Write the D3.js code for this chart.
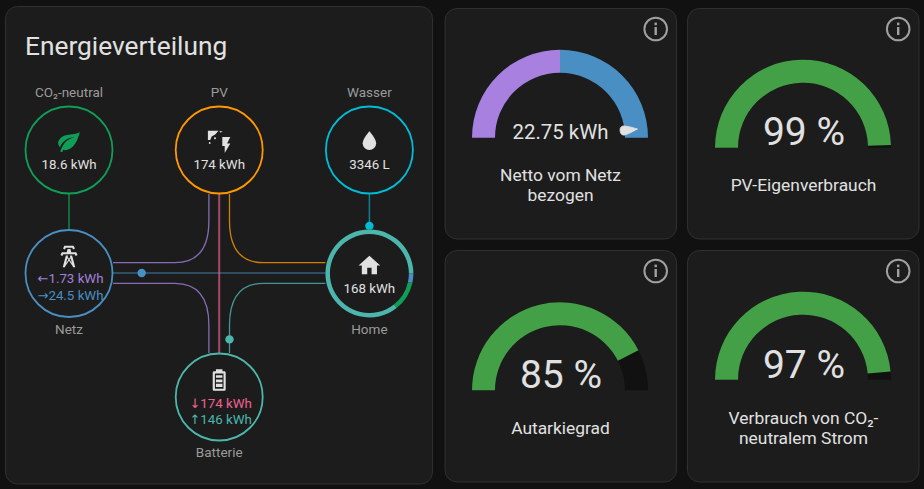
<!DOCTYPE html>
<html lang="de">
<head>
<meta charset="utf-8">
<script src="https://cdn.jsdelivr.net/npm/d3@7/dist/d3.min.js"></script>
<style>
  html, body { margin: 0; background: #111111; }
  svg { display: block; font-family: Roboto, sans-serif; }
</style>
</head>
<body>
<div id="chart"></div>
<script>
// Werte
const nodeNames = ["CO₂-neutral", "PV", "Wasser", "Netz", "Home", "Batterie"]
const nodeValues = ["18.6 kWh", "174 kWh", "3346 L", null, "168 kWh", null]
const gridReturn = "1.73 kWh"
const gridConsume = "24.5 kWh"
const batteryIn = "174 kWh"
const batteryOut = "146 kWh"

// Anteile des Home-Rings: Netz fossil, CO2-neutral, Batterie
const homeShares = [5.9, 18.6, 146]

const gaugeTitles = [["Netto vom Netz", "bezogen"], ["PV-Eigenverbrauch"], ["Autarkiegrad"], ["Verbrauch von CO₂-", "neutralem Strom"]]
const gaugeValues = [22.75, 99, 85, 97]
const gaugeLabels = ["22.75 kWh", "99 %", "85 %", "97 %"]
const nettoMin = -24.5
const nettoMax = 24.5

const colors = {
  page: "#111111", card: "#1c1c1c", border: "#303030", text: "#e1e1e1", label: "#9b9b9b",
  grid: "#488fc2", gridReturn: "#a280db", pv: "#ff9800", co2: "#0f9d58", water: "#00bcd4",
  battery: "#4db6ac", batteryIn: "#f06292", gauge: "#43a047", gaugeBg: "#111111",
  netNeg: "#a880e0", netPos: "#4a8fc4",
}

const icons = {
  leaf: "M17,8C8,10 5.9,16.17 3.82,21.34L5.71,22L6.66,19.7C7.14,19.87 7.64,20 8,20C19,20 22,3 22,3C21,5 14,5.25 9,6.25C4,7.25 2,11.5 2,13.5C2,15.5 3.75,17.25 3.75,17.25C7,8 17,8 17,8Z",
  home: "M10,20V14H14V20H19V12H22L12,3L2,12H5V20H10Z",
  water: "M12,20A6,6 0 0,1 6,14C6,10 12,3.25 12,3.25C12,3.25 18,10 18,14A6,6 0 0,1 12,20Z",
  tower: "M8.28,5.45L6.5,4.55L7.76,2H16.23L17.5,4.55L15.72,5.44L15,4H9L8.28,5.45M18.62,8H14.09L13.3,5H10.7L9.91,8H5.38L4.1,10.55L5.89,11.44L6.62,10H17.38L18.1,11.45L19.89,10.56L18.62,8M17.77,22H15.7L15.46,21.1L12,15.9L8.53,21.1L8.3,22H6.23L9.12,11H11.19L10.83,12.35L12,14.1L13.16,12.35L12.81,11H14.88L17.77,22M11.4,15L10.5,13.65L9.32,18.13L11.4,15M14.68,18.12L13.5,13.64L12.6,15L14.68,18.12Z",
  battery: "M16,20H8V6H16M16.67,4H15V2H9V4H7.33A1.33,1.33 0 0,0 6,5.33V20.67C6,21.4 6.6,22 7.33,22H16.67A1.33,1.33 0 0,0 18,20.67V5.33C18,4.6 17.4,4 16.67,4Z M9,7.5H15V10H9Z M9,11.5H15V14H9Z M9,15.5H15V18.5H9Z",
  flash: "M7,2V13H10V22L17,10H13L17,2H7Z",
}

const W = 924, H = 489
const svg = d3.select("#chart").append("svg")
  .attr("width", W).attr("height", H)
  .attr("viewBox", `0 0 ${W} ${H}`)
  .style("background", colors.page)

function card(x0, y0, x1, y1) {
  svg.append("rect")
    .attr("x", x0).attr("y", y0).attr("width", x1 - x0).attr("height", y1 - y0)
    .attr("rx", 12)
    .attr("fill", colors.card).attr("stroke", colors.border).attr("stroke-width", 1)
}

// --- Energieverteilung ---
card(5.5, 6.5, 432.5, 484)

svg.append("text")
  .attr("x", 25).attr("y", 55)
  .attr("fill", colors.text).attr("font-size", 26.3)
  .text("Energieverteilung")

const col = d3.scalePoint().domain([0, 1, 2]).range([69, 369.4])
const row = d3.scalePoint().domain([0, 1, 2]).range([150, 397])
const R = 44
const LANE = 10.3

const nodes = nodeNames.map((name, i) => ({ name, value: nodeValues[i] }))
const pos = {
  co2: [col(0), row(0)], pv: [col(1), row(0)], water: [col(2), row(0)],
  grid: [col(0), row(1)], home: [col(2), row(1)], battery: [col(1), row(2)],
}

// Bogen zwischen senkrechtem PV/Batterie-Anschluss und waagerechter Spur
function bend(xV, yV, xH, yH) {
  const p = d3.path()
  const sx = Math.sign(xH - xV), sy = Math.sign(yH - yV)
  p.moveTo(xV, yV)
  p.lineTo(xV, yH - sy * 42)
  p.bezierCurveTo(xV, yH - sy * 9, xV + sx * 16, yH, xV + sx * 34, yH)
  p.lineTo(xH, yH)
  return p.toString()
}

const rimR = R
const xL = pos.grid[0] + rimR, xR = pos.home[0] - rimR
const yM = pos.grid[1] - 0.5
const pvBottom = pos.pv[1] + rimR, batTop = pos.battery[1] - rimR

const flows = [
  { id: "co2", color: colors.co2, w: 1.5, opacity: 0.8, d: `M${pos.co2[0]},${pos.co2[1] + rimR}V${pos.grid[1] - rimR}` },
  { id: "water", color: colors.water, w: 1.5, opacity: 0.65, d: `M${pos.water[0]},${pos.water[1] + rimR}V${pos.home[1] - rimR}`, dot: 0.9 },
  { id: "gridHome", color: colors.grid, w: 1.2, opacity: 0.85, d: `M${xL},${yM}H${xR}`, dot: 0.135 },
  { id: "pvBat", color: colors.batteryIn, w: 2, opacity: 0.65, d: `M${pos.pv[0]},${pvBottom}V${batTop}` },
  { id: "pvGrid", color: colors.gridReturn, w: 1.3, opacity: 0.8, d: bend(pos.pv[0] - LANE, pvBottom, xL, yM - LANE) },
  { id: "pvHome", color: colors.pv, w: 1.3, opacity: 0.8, d: bend(pos.pv[0] + LANE, pvBottom, xR, yM - LANE) },
  { id: "batGrid", color: colors.gridReturn, w: 1.3, opacity: 0.8, d: bend(pos.battery[0] - LANE, batTop, xL, yM + LANE) },
  { id: "batHome", color: colors.battery, w: 1.3, opacity: 0.8, d: bend(pos.battery[0] + LANE, batTop, xR, yM + LANE), dot: 0.09 },
]

const flowG = svg.append("g").attr("fill", "none")
flows.forEach((f) => {
  const path = flowG.append("path")
    .attr("d", f.d)
    .attr("stroke", f.color).attr("stroke-width", f.w).attr("opacity", f.opacity)
  if (f.dot != null) {
    const node = path.node()
    const pt = node.getPointAtLength(node.getTotalLength() * f.dot)
    svg.append("circle").attr("cx", pt.x).attr("cy", pt.y).attr("r", 4.2).attr("fill", f.color)
  }
})

// Kreise
const nodeCircles = [
  [pos.co2, colors.co2], [pos.pv, colors.pv], [pos.water, colors.water],
  [pos.grid, colors.grid], [pos.battery, colors.battery],
]
nodeCircles.forEach(([p, c]) => {
  svg.append("circle")
    .attr("cx", p[0]).attr("cy", p[1]).attr("r", R - 0.5)
    .attr("fill", colors.card).attr("stroke", c).attr("stroke-width", 1.8)
})

// Home-Ring aus den Anteilen
svg.append("circle").attr("cx", pos.home[0]).attr("cy", pos.home[1]).attr("r", R).attr("fill", colors.card)
const ringColors = [colors.grid, colors.co2, colors.battery]
const pie = d3.pie().sort(null).startAngle(Math.PI / 2).endAngle(Math.PI * 2.5)
const ringArc = d3.arc().innerRadius(R - 4.5).outerRadius(R)
svg.append("g")
  .attr("transform", `translate(${pos.home[0]},${pos.home[1]})`)
  .selectAll("path")
  .data(pie(homeShares))
  .join("path")
  .attr("d", ringArc)
  .attr("fill", (_, i) => ringColors[i])

function icon(name, cx, cy, size, fill) {
  const k = size / 24
  svg.append("path")
    .attr("d", icons[name])
    .attr("transform", `translate(${cx - 12 * k},${cy - 12 * k}) scale(${k})`)
    .attr("fill", fill)
}

icon("leaf", pos.co2[0], pos.co2[1] - 8.5, 26, colors.co2)
icon("water", pos.water[0], pos.water[1] - 9, 27, colors.text)
icon("tower", pos.grid[0], pos.grid[1] - 17, 26, colors.text)
icon("home", pos.home[0], pos.home[1] - 8, 26, colors.text)
icon("battery", pos.battery[0], pos.battery[1] - 17, 26, colors.text)

// PV-Symbol: Panel + Blitz
const pvIcon = svg.append("g").attr("transform", `translate(${pos.pv[0]},${pos.pv[1] - 9})`).attr("fill", colors.text)
pvIcon.append("path").attr("d", "M-11.3,-10.3H-0.7L-4,-6.5L-7.5,-4.5L-9,-1H-11.3Z")
pvIcon.append("path").attr("d", "M0.2,-10.3L3.7,-9.5L1,-8.2Z").attr("opacity", 0.8)
pvIcon.append("circle").attr("cx", -4.2).attr("cy", -2.8).attr("r", 1)
pvIcon.append("circle").attr("cx", -9.5).attr("cy", 2).attr("r", 0.9)
pvIcon.append("path").attr("d", icons.flash)
  .attr("transform", "translate(-2.5,-5.5) scale(0.8)")

// Beschriftungen
const labelY = [row(0) - 53, row(0) - 53, row(0) - 53, row(1) + 60, row(1) + 60, row(2) + 60]
const labelX = [col(0), col(1), col(2), col(0), col(2), col(1)]
svg.append("g").attr("text-anchor", "middle")
  .selectAll("text")
  .data(nodes)
  .join("text")
  .attr("x", (_, i) => labelX[i]).attr("y", (_, i) => labelY[i])
  .attr("fill", colors.label).attr("font-size", 13.5)
  .text((d) => d.name)

const valueY = [row(0) + 19, row(0) + 19, row(0) + 19, 0, row(1) + 19, 0]
svg.append("g").attr("text-anchor", "middle")
  .selectAll("text")
  .data(nodes.filter((d) => d.value))
  .join("text")
  .attr("x", (d) => labelX[nodes.indexOf(d)]).attr("y", (d) => valueY[nodes.indexOf(d)])
  .attr("fill", colors.text).attr("font-size", 13.3)
  .text((d) => d.value)

const splitLines = [
  { x: pos.grid[0] + 1.5, y: pos.grid[1] + 9.5, c: colors.gridReturn, a: "←", t: gridReturn },
  { x: pos.grid[0] + 1.5, y: pos.grid[1] + 26, c: colors.grid, a: "→", t: gridConsume },
  { x: pos.battery[0] + 1.5, y: pos.battery[1] + 11, c: colors.batteryIn, a: "↓", t: batteryIn },
  { x: pos.battery[0] + 1.5, y: pos.battery[1] + 26.5, c: colors.battery, a: "↑", t: batteryOut },
]
splitLines.forEach((l) => {
  const t = svg.append("text")
    .attr("x", l.x).attr("y", l.y)
    .attr("text-anchor", "middle")
    .attr("fill", l.c).attr("font-size", 13.3)
  t.append("tspan").attr("font-family", "DejaVu Sans").attr("font-size", 13).text(l.a)
  t.append("tspan").text(l.t)
})

// --- Gauges ---
const gaugeCards = [
  { box: [445, 8.5, 676.5, 239], cx: 560, base: 137.7, fs: 20.4, vy: 138.5, ty: [181, 201] },
  { box: [687.5, 8.5, 919, 239], cx: 803, base: 147.7, fs: 39, vy: 145, ty: [191] },
  { box: [445, 250.5, 676.5, 482], cx: 560, base: 390.3, fs: 39, vy: 387.5, ty: [434] },
  { box: [687.5, 250.5, 919, 482], cx: 803, base: 379.7, fs: 39, vy: 377.5, ty: [423.5, 444] },
]

const angle = d3.scaleLinear().domain([0, 100]).range([-Math.PI / 2, Math.PI / 2])
const nettoAngle = d3.scaleLinear().domain([nettoMin, nettoMax]).range([-Math.PI / 2, Math.PI / 2])
const gaugeArc = d3.arc().innerRadius(65).outerRadius(88)

gaugeCards.forEach((g, i) => {
  card(...g.box)

  const root = svg.append("g").attr("transform", `translate(${g.cx},${g.base})`)
  if (i === 0) {
    // Netto: zwei Bereiche links/rechts der Null, Wert als Nadel
    root.append("path")
      .attr("d", gaugeArc({ startAngle: nettoAngle(nettoMin), endAngle: nettoAngle(0) }))
      .attr("fill", colors.netNeg)
    root.append("path")
      .attr("d", gaugeArc({ startAngle: nettoAngle(0), endAngle: nettoAngle(nettoMax) }))
      .attr("fill", colors.netPos)
    root.append("path")
      .attr("d", "M0,-60.5 Q-4.6,-60.5 -4.6,-64.5 Q-3.5,-70 0,-78 Q3.5,-70 4.6,-64.5 Q4.6,-60.5 0,-60.5Z")
      .attr("transform", `rotate(${nettoAngle(gaugeValues[i]) * 180 / Math.PI})`)
      .attr("fill", colors.text).attr("stroke", colors.text).attr("stroke-width", 0.8).attr("stroke-linejoin", "round")
  } else {
    root.append("path")
      .attr("d", gaugeArc({ startAngle: angle(0), endAngle: angle(100) }))
      .attr("fill", colors.gaugeBg)
    root.append("path")
      .attr("d", gaugeArc({ startAngle: angle(0), endAngle: angle(gaugeValues[i]) }))
      .attr("fill", colors.gauge)
  }

  svg.append("text")
    .attr("x", g.cx + (i === 0 ? 0.5 : 1)).attr("y", g.vy)
    .attr("text-anchor", "middle")
    .attr("fill", colors.text).attr("font-size", g.fs)
    .text(gaugeLabels[i])

  gaugeTitles[i].forEach((line, j) => {
    svg.append("text")
      .attr("x", g.cx + 0.5).attr("y", g.ty[j])
      .attr("text-anchor", "middle")
      .attr("fill", colors.text).attr("font-size", 17.4)
      .text(line)
  })

  // Info-Symbol oben rechts
  const ix = g.box[2] - 20.8, iy = g.box[1] + 20.5
  const info = svg.append("g").attr("transform", `translate(${ix},${iy})`)
  info.append("circle").attr("r", 11.3).attr("fill", "none").attr("stroke", "#a0a0a0").attr("stroke-width", 2)
  info.append("rect").attr("x", -1.2).attr("y", -2).attr("width", 2.4).attr("height", 8).attr("fill", "#a0a0a0")
  info.append("rect").attr("x", -1.2).attr("y", -6.4).attr("width", 2.4).attr("height", 2.6).attr("fill", "#a0a0a0")
})
</script>
</body>
</html>
